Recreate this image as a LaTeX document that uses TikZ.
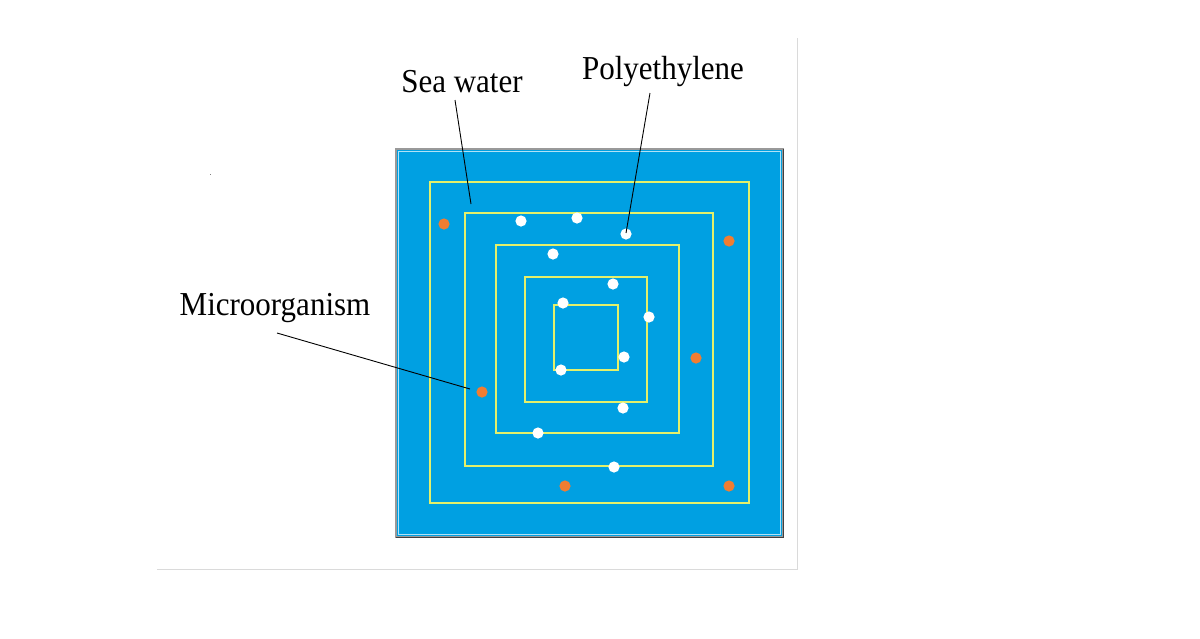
\documentclass[tikz,border=0pt]{standalone}
\usepackage{fontspec}
\setmainfont{Liberation Serif}
\definecolor{seablue}{HTML}{00A0E2}
\definecolor{orgorange}{HTML}{F07D32}
\definecolor{layeryellow}{HTML}{E4F06A}
\definecolor{framegray}{HTML}{DADADA}
\begin{document}
\begin{tikzpicture}[x=1pt,y=-1pt,
  lbl/.style={font=\fontsize{31}{31}\selectfont, inner sep=0pt, anchor=base, yscale=1.08},
  layer/.style={draw=layeryellow, line width=1.3pt},
  pe/.style={fill=white},
  mo/.style={fill=orgorange},
  leader/.style={draw=black, line width=0.9pt}]
\useasboundingbox (0,0) rectangle (1200,638);
\fill[white] (0,0) rectangle (1200,638);
% faint outer frame
\draw[framegray, line width=0.8pt] (797,38) -- (797,569) -- (157,569);
\fill[gray] (209.5,173.5) rectangle (211,175);
% blue sea square
\fill[seablue] (397,150) rectangle (782,536);
\draw[gray!80, line width=1.2pt] (396,149) rectangle (783,537);
\draw[black!75, line width=1.4pt] (783.5,149) -- (783.5,537.5) -- (396,537.5);
\draw[white!70!seablue, line width=0.8pt] (398.5,151.5) rectangle (780.5,534.5);
% polyethylene layers
\draw[layer] (430,182) rectangle (749,503);
\draw[layer] (465,213) rectangle (713,466);
\draw[layer] (496,245) rectangle (679,433);
\draw[layer] (525,277) rectangle (647,402);
\draw[layer] (554,305) rectangle (618,370);
% polyethylene particles
\foreach \x/\y in {521/221,577/218,626/234,553/254,613/284,563/303,649/317,624/357,561/370,623/408,538/433,614/467}
  \fill[pe] (\x,\y) circle (5.6);
% microorganisms
\foreach \x/\y in {444/224,729/241,696/358,482/392,565/486,729/486}
  \fill[mo] (\x,\y) circle (5.6);
% labels
\node[lbl] (sea) at (462,92) {Sea water};
\node[lbl] (poly) at (663,79) {Polyethylene};
\node[lbl] (micro) at (275,315) {Microorganism};
\coordinate (seaA) at (455,100);
\coordinate (seaB) at (471,204);
\coordinate (polyA) at (650,93);
\coordinate (polyB) at (626,233);
\coordinate (microA) at (277,333);
\coordinate (microB) at (470,389);
\draw[leader] (seaA) -- (seaB);
\draw[leader] (polyA) -- (polyB);
\draw[leader] (microA) -- (microB);
\end{tikzpicture}
\end{document}
